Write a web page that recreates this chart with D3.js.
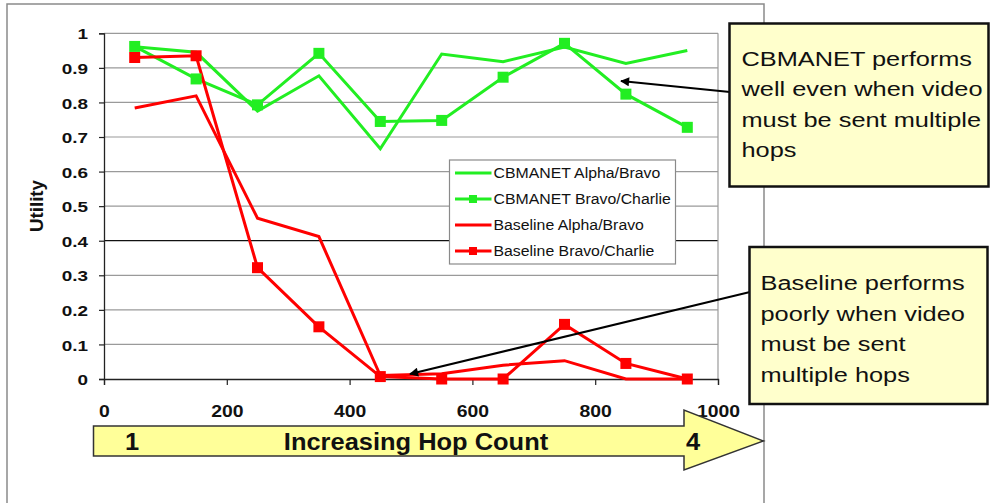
<!DOCTYPE html>
<html>
<head>
<meta charset="utf-8">
<script src="https://cdn.jsdelivr.net/npm/d3@7"></script>
<style>
  html, body { margin: 0; padding: 0; background: #fff; }
  svg { display: block; font-family: "Liberation Sans", Arial, sans-serif; }
</style>
</head>
<body>
<svg id="chart" width="990" height="503"></svg>
<script>
// ---------- data ----------
const xValues = [50, 150, 250, 350, 450, 550, 650, 750, 850, 950];
const cbmanetAlphaBravo = [0.961, 0.945, 0.775, 0.877, 0.666, 0.940, 0.918, 0.960, 0.913, 0.950];
const cbmanetBravoCharlie = [0.962, 0.868, 0.793, 0.942, 0.745, 0.748, 0.873, 0.971, 0.824, 0.728];
const baselineAlphaBravo = [0.784, 0.819, 0.465, 0.412, 0.010, 0.015, 0.040, 0.053, 0.000, 0.000];
const baselineBravoCharlie = [0.930, 0.935, 0.322, 0.151, 0.007, 0.000, 0.000, 0.158, 0.045, 0.000];
const seriesNames = ["CBMANET Alpha/Bravo", "CBMANET Bravo/Charlie", "Baseline Alpha/Bravo", "Baseline Bravo/Charlie"];
const xTicks = [0, 200, 400, 600, 800, 1000];
const yTicks = [0, 0.1, 0.2, 0.3, 0.4, 0.5, 0.6, 0.7, 0.8, 0.9, 1];
const yTickLabels = ["0", "0.1", "0.2", "0.3", "0.4", "0.5", "0.6", "0.7", "0.8", "0.9", "1"];
const yAxisTitle = "Utility";
const hopLabels = ["1", "Increasing Hop Count", "4"];
const callout1 = ["CBMANET performs", "well even when video", "must be sent multiple", "hops"];
const callout2 = ["Baseline performs", "poorly when video", "must be sent", "multiple hops"];

const GREEN = "#22ee22", RED = "#ff0000";
const series = [
  { name: seriesNames[0], values: cbmanetAlphaBravo, color: GREEN, marker: false },
  { name: seriesNames[1], values: cbmanetBravoCharlie, color: GREEN, marker: true },
  { name: seriesNames[2], values: baselineAlphaBravo, color: RED, marker: false },
  { name: seriesNames[3], values: baselineBravoCharlie, color: RED, marker: true }
];

const svg = d3.select("#chart");
const x = d3.scaleLinear().domain([0, 1000]).range([104, 718]);
const y = d3.scaleLinear().domain([0, 1]).range([379, 33.3]);

// horizontal stretch helper (source image is stretched horizontally)
function stretch(sel, k) {
  sel.each(function () {
    const w = this.getComputedTextLength();
    d3.select(this).attr("textLength", w * k).attr("lengthAdjust", "spacingAndGlyphs");
  });
}

// outer frame
svg.append("rect").attr("x", 7).attr("y", 4).attr("width", 757).attr("height", 540)
  .attr("fill", "none").attr("stroke", "#8a8a8a").attr("stroke-width", 1.5);

// gridlines
svg.append("g").selectAll("line").data(yTicks.filter(d => d > 0)).join("line")
  .attr("x1", x(0)).attr("x2", x(1000))
  .attr("y1", d => y(d)).attr("y2", d => y(d))
  .attr("stroke", d => Math.abs(d - 0.4) < 1e-9 ? "#111" : "#9a9a9a")
  .attr("stroke-width", 1.2);
// plot area right border
svg.append("line").attr("x1", x(1000)).attr("x2", x(1000)).attr("y1", y(1)).attr("y2", y(0))
  .attr("stroke", "#9a9a9a").attr("stroke-width", 1.2);

// axes
const yAxis = d3.axisLeft(y).tickValues(yTicks).tickSize(5).tickFormat((d, i) => yTickLabels[i]);
const gy = svg.append("g").attr("transform", `translate(${x(0)},0)`).call(yAxis);
gy.select(".domain").attr("stroke", "#222").attr("stroke-width", 1.3);
gy.selectAll(".tick line").attr("stroke", "#222").attr("stroke-width", 1.2);
gy.selectAll(".tick text").attr("x", -16).attr("dy", "0.36em")
  .attr("font-size", 15.5).attr("font-weight", "bold").attr("fill", "#111")
  .attr("font-family", "Liberation Sans, Arial, sans-serif");
stretch(gy.selectAll(".tick text"), 1.22);

const xAxis = d3.axisBottom(x).tickValues(xTicks).tickSize(6).tickFormat(d3.format("d"));
const gx = svg.append("g").attr("transform", `translate(0,${y(0)})`).call(xAxis);
gx.select(".domain").attr("stroke", "#222").attr("stroke-width", 1.3);
gx.selectAll(".tick line").attr("stroke", "#222").attr("stroke-width", 1.2);
gx.selectAll(".tick text").attr("y", 38).attr("dy", 0)
  .attr("font-size", 17).attr("font-weight", "bold").attr("fill", "#111")
  .attr("font-family", "Liberation Sans, Arial, sans-serif");
stretch(gx.selectAll(".tick text"), 1.14);

// y axis title
svg.append("text").attr("transform", "translate(43,206) rotate(-90)")
  .attr("text-anchor", "middle").attr("font-size", 18).attr("font-weight", "bold")
  .attr("fill", "#111").attr("textLength", 52).attr("lengthAdjust", "spacingAndGlyphs")
  .text(yAxisTitle);

// lines
const line = d3.line().x((d, i) => x(xValues[i])).y(d => y(d));
const gs = svg.append("g");
series.forEach(s => {
  gs.append("path").datum(s.values).attr("d", line)
    .attr("fill", "none").attr("stroke", s.color).attr("stroke-width", 3)
    .attr("stroke-linejoin", "miter");
});
series.filter(s => s.marker).forEach(s => {
  gs.append("g").selectAll("rect").data(s.values).join("rect")
    .attr("x", (d, i) => x(xValues[i]) - 5.5).attr("y", d => y(d) - 5.5)
    .attr("width", 11).attr("height", 11).attr("fill", s.color);
});

// legend
const lg = svg.append("g").attr("transform", "translate(449.5,160)");
lg.append("rect").attr("width", 226).attr("height", 104).attr("fill", "#fff")
  .attr("stroke", "#8a8a8a").attr("stroke-width", 1.2);
series.forEach((s, i) => {
  const cy = 13 + i * 26;
  lg.append("line").attr("x1", 5.5).attr("x2", 42).attr("y1", cy).attr("y2", cy)
    .attr("stroke", s.color).attr("stroke-width", 3);
  if (s.marker) lg.append("rect").attr("x", 19.5).attr("y", cy - 4).attr("width", 8).attr("height", 8).attr("fill", s.color);
  lg.append("text").attr("x", 44).attr("y", cy + 5).attr("font-size", 14).attr("fill", "#111").text(s.name);
});
stretch(lg.selectAll("text"), 1.13);

// hop count arrow
const ab = { x0: 93.5, x1: 684, tip: 763.5, top: 426, bot: 456, htop: 410, hbot: 470 };
svg.append("path")
  .attr("d", `M${ab.x0},${ab.top}H${ab.x1}V${ab.htop}L${ab.tip},${(ab.top + ab.bot) / 2}L${ab.x1},${ab.hbot}V${ab.bot}H${ab.x0}Z`)
  .attr("fill", "#ffff99").attr("stroke", "#333").attr("stroke-width", 1.5);
const hop = svg.append("g").attr("font-size", 24).attr("font-weight", "bold").attr("fill", "#111");
hop.append("text").attr("x", 132).attr("y", 450).attr("text-anchor", "middle").text(hopLabels[0]);
hop.append("text").attr("x", 416).attr("y", 450).attr("text-anchor", "middle").text(hopLabels[1]);
hop.append("text").attr("x", 693).attr("y", 450).attr("text-anchor", "middle").text(hopLabels[2]);
stretch(hop.selectAll("text"), 1.06);

// annotation arrows
svg.append("defs").append("marker").attr("id", "ah").attr("viewBox", "0 0 10 10")
  .attr("refX", 9).attr("refY", 5).attr("markerWidth", 5).attr("markerHeight", 4.5)
  .attr("orient", "auto").attr("markerUnits", "strokeWidth")
  .append("path").attr("d", "M0,0L10,5L0,10Z").attr("fill", "#000");
svg.append("line").attr("x1", 730).attr("y1", 92).attr("x2", 621).attr("y2", 81)
  .attr("stroke", "#000").attr("stroke-width", 2).attr("marker-end", "url(#ah)");
svg.append("line").attr("x1", 750).attr("y1", 292).attr("x2", 410).attr("y2", 374)
  .attr("stroke", "#000").attr("stroke-width", 2).attr("marker-end", "url(#ah)");

// callout boxes
function callout(bx, by, bw, bh, tx, ty0, lines) {
  const g = svg.append("g");
  g.append("rect").attr("x", bx).attr("y", by).attr("width", bw).attr("height", bh)
    .attr("fill", "#ffffcc").attr("stroke", "#111").attr("stroke-width", 2.5);
  const t = g.selectAll("text").data(lines).join("text")
    .attr("x", tx).attr("y", (d, i) => ty0 + i * 30.5)
    .attr("font-size", 19.5).attr("fill", "#111").text(d => d);
  stretch(t, 1.3);
}
callout(729.5, 23.5, 259, 163, 741.5, 65.7, callout1);
callout(749.5, 247, 238, 157, 760.5, 290, callout2);
</script>
</body>
</html>
